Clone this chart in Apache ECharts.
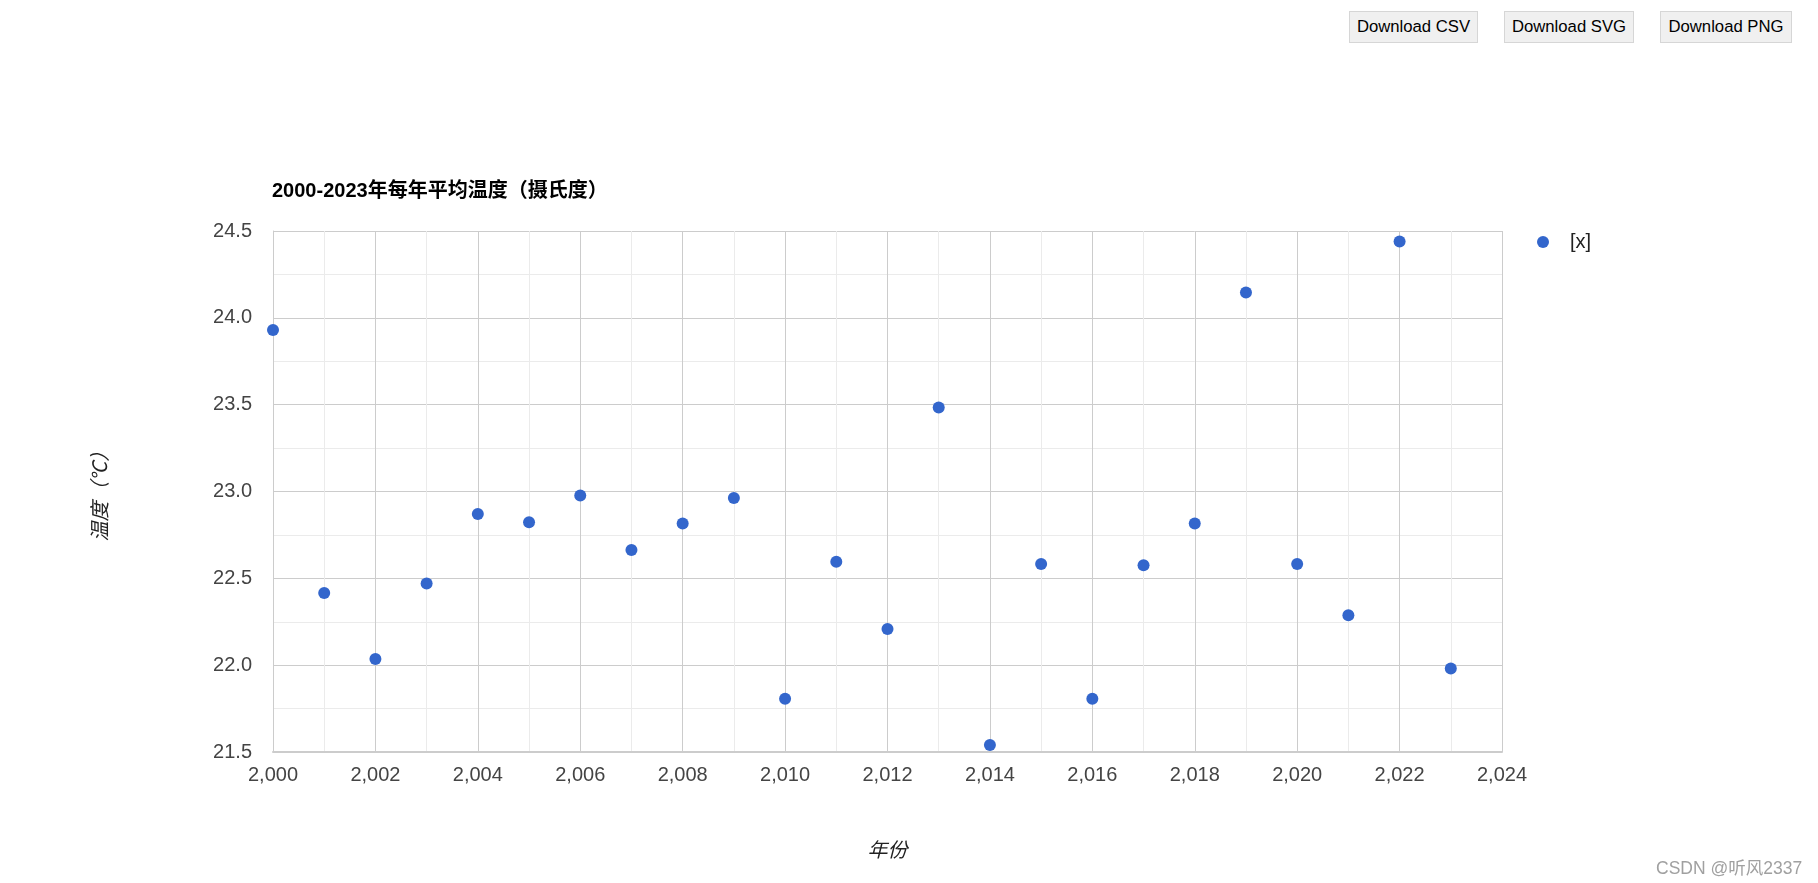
<!DOCTYPE html>
<html>
<head>
<meta charset="utf-8">
<script src="https://cdn.jsdelivr.net/npm/echarts@6/dist/echarts.min.js"></script>
<style>
html,body{margin:0;padding:0;background:#fff;width:1818px;height:883px;overflow:hidden;}
#chart{position:absolute;left:0;top:0;width:1818px;height:883px;}
.btn{position:absolute;top:11px;height:32px;box-sizing:border-box;background:#f0f0f0;border:1px solid #d6d6d6;font-family:Arial,"Liberation Sans",sans-serif;font-size:16.7px;color:#000;line-height:30px;text-align:center;}
#wm{position:absolute;left:1656px;top:854px;font-family:Arial,"Liberation Sans","Noto Sans CJK SC",sans-serif;font-size:17.5px;color:#a0a0a0;white-space:nowrap;}
</style>
</head>
<body>
<div id="chart"></div>
<div class="btn" style="left:1349px;width:129px;">Download CSV</div>
<div class="btn" style="left:1504px;width:130px;">Download SVG</div>
<div class="btn" style="left:1660px;width:132px;">Download PNG</div>
<div id="wm">CSDN @听风2337</div>
<script>
const titleText = '2000-2023年每年平均温度（摄氏度）';
const xName = '年份';
const yName = '温度（℃）';
const seriesName = '[x]';
const years = [2000,2001,2002,2003,2004,2005,2006,2007,2008,2009,2010,2011,2012,2013,2014,2015,2016,2017,2018,2019,2020,2021,2022,2023];
const temps = [23.93,22.415,22.035,22.47,22.87,22.823,22.977,22.663,22.816,22.963,21.807,22.596,22.208,23.484,21.54,22.582,21.807,22.576,22.816,24.146,22.582,22.288,24.44,21.981];

const chart = echarts.init(document.getElementById('chart'), null, {renderer:'canvas'});
const font = 'Arial, "Liberation Sans", "Noto Sans CJK SC", sans-serif';
chart.setOption({
  animation:false,
  textStyle:{fontFamily:font},
  title:{text:titleText,left:272,top:181,padding:0,textStyle:{fontSize:20,fontWeight:'bold',color:'#000',fontFamily:font}},
  legend:{left:1532,top:227,icon:'circle',itemWidth:12,itemHeight:12,
    textStyle:{fontSize:20,color:'#222',padding:[0,0,0,16],fontFamily:font},
    data:[seriesName]},
  grid:{left:273,right:316,top:231,bottom:131,containLabel:false},
  xAxis:{type:'value',min:2000,max:2024,interval:2,
    name:xName,nameLocation:'middle',nameGap:89,
    nameTextStyle:{fontSize:20,fontStyle:'italic',color:'#222',fontFamily:font},
    axisLine:{show:true,lineStyle:{color:'#ccc',width:2}},
    axisTick:{show:false},
    axisLabel:{fontSize:20,color:'#444',margin:13,formatter:v=>v.toLocaleString('en-US'),fontFamily:font},
    splitLine:{show:true,lineStyle:{color:'#ccc',width:1}},
    minorTick:{show:false,splitNumber:2},
    minorSplitLine:{show:true,lineStyle:{color:'#ebebeb',width:1}}},
  yAxis:{type:'value',min:21.5,max:24.5,interval:0.5,
    name:yName,nameLocation:'middle',nameGap:162,nameRotate:90,
    nameTextStyle:{fontSize:20,fontStyle:'italic',color:'#222',fontFamily:font},
    axisLine:{show:true,lineStyle:{color:'#ccc',width:1}},
    axisTick:{show:false},
    axisLabel:{fontSize:20,color:'#444',margin:21,formatter:v=>v.toFixed(1),fontFamily:font},
    splitLine:{show:true,lineStyle:{color:'#ccc',width:1}},
    minorTick:{show:false,splitNumber:2},
    minorSplitLine:{show:true,lineStyle:{color:'#ebebeb',width:1}}},
  series:[{name:seriesName,type:'scatter',symbol:'circle',symbolSize:12,
    itemStyle:{color:'#3366cc',opacity:1},
    data:years.map((y,i)=>[y,temps[i]])}]
});
</script>
</body>
</html>
